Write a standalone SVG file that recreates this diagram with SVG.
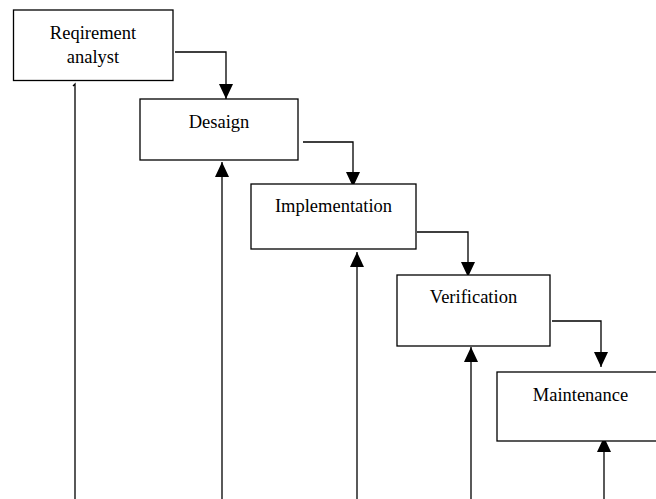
<svg xmlns="http://www.w3.org/2000/svg" width="656" height="499" viewBox="0 0 656 499">
  <style>
    .box { fill: #ffffff; stroke: #000000; stroke-width: 1.3; }
    .label { font-family: "Liberation Serif", "Times New Roman", serif; font-size: 18.5px; fill: #000000; text-anchor: middle; }
    .link { fill: none; stroke: #000000; stroke-width: 1.3; }
  </style>
  <defs>
    <marker id="head" markerUnits="userSpaceOnUse" markerWidth="16" markerHeight="14" refX="15" refY="7" orient="auto">
      <path d="M0,0 L15,7 L0,14 z" fill="#000000"/>
    </marker>
  </defs>
  <rect width="656" height="499" fill="#ffffff"/>

  <g id="connectors">
    <!-- stage to stage, stepping down the cascade -->
    <path class="link" d="M175,52 H226 V99" marker-end="url(#head)"/>
    <path class="link" d="M303,142 H353 V187" marker-end="url(#head)"/>
    <path class="link" d="M417,232 H468 V277" marker-end="url(#head)"/>
    <path class="link" d="M552,321 H601 V367" marker-end="url(#head)"/>
    <!-- feedback lines rising from the bottom edge -->
    <path class="link" d="M73,86 L75,84 V499"/>
    <path class="link" d="M222,499 V162" marker-end="url(#head)"/>
    <path class="link" d="M357,499 V252" marker-end="url(#head)"/>
    <path class="link" d="M471,499 V347" marker-end="url(#head)"/>
    <path class="link" d="M604,499 V437" marker-end="url(#head)"/>
  </g>

  <g id="requirement">
    <rect class="box" x="13.5" y="10" width="159.5" height="70.5"/>
    <text class="label" x="93" y="38.5">Reqirement</text>
    <text class="label" x="93" y="62.5">analyst</text>
  </g>
  <g id="design">
    <rect class="box" x="140" y="99" width="158" height="61"/>
    <text class="label" x="219" y="127.5">Desaign</text>
  </g>
  <g id="implementation">
    <rect class="box" x="251" y="184" width="165" height="65"/>
    <text class="label" x="333.5" y="212">Implementation</text>
  </g>
  <g id="verification">
    <rect class="box" x="397" y="275" width="153" height="71"/>
    <text class="label" x="473.5" y="303">Verification</text>
  </g>
  <g id="maintenance">
    <rect class="box" x="497" y="372" width="170" height="69"/>
    <text class="label" x="580.5" y="400.5">Maintenance</text>
  </g>
</svg>
